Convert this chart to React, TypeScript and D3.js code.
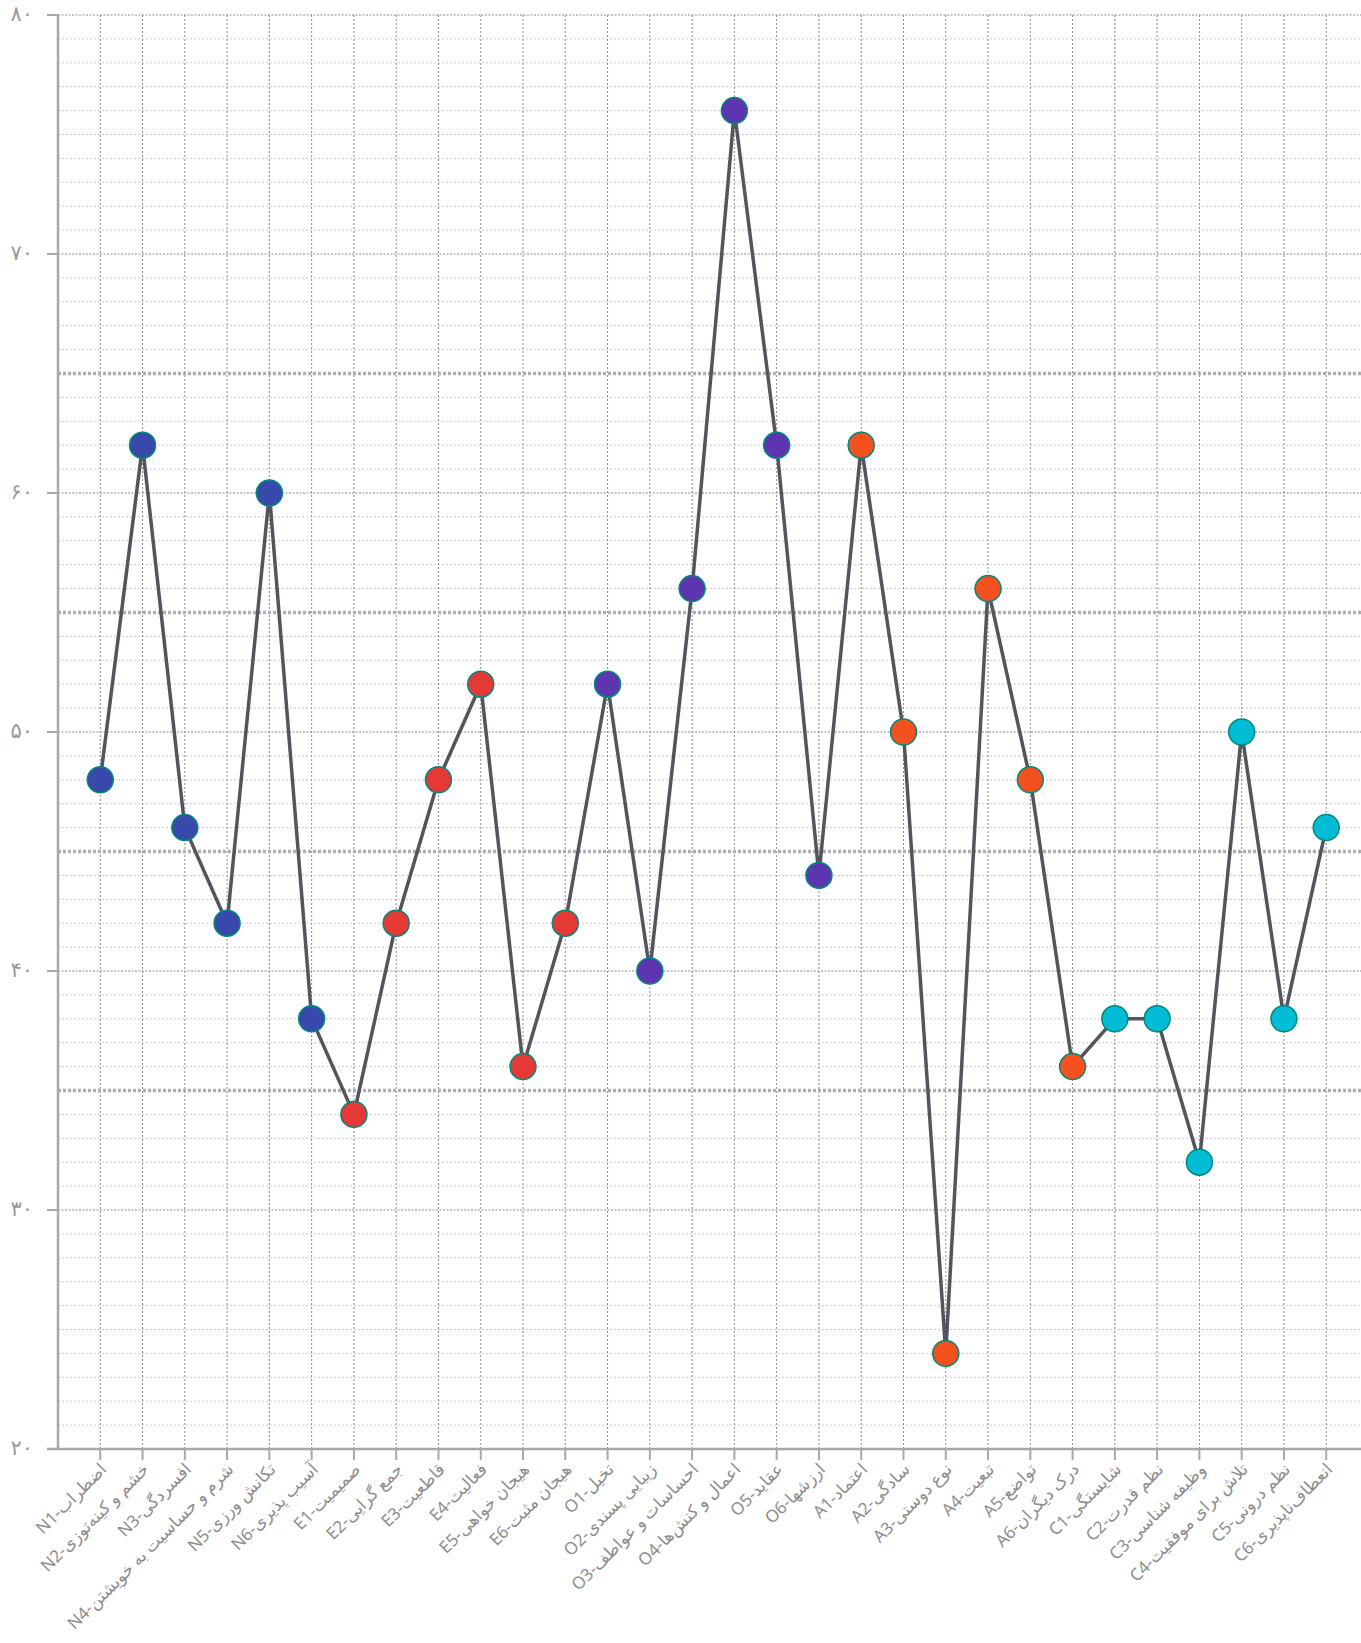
import React, { useEffect, useRef } from 'react';
import * as d3 from 'd3';

// facet codes and names (NEO)
const codes = [
  'N1', 'N2', 'N3', 'N4', 'N5', 'N6',
  'E1', 'E2', 'E3', 'E4', 'E5', 'E6',
  'O1', 'O2', 'O3', 'O4', 'O5', 'O6',
  'A1', 'A2', 'A3', 'A4', 'A5', 'A6',
  'C1', 'C2', 'C3', 'C4', 'C5', 'C6',
];
const names = [
  'اضطراب', 'خشم و کینه‌توزی', 'افسردگی', 'شرم و حساسیت به خویشتن', 'تکانش ورزی', 'آسیب پذیری',
  'صمیمیت', 'جمع گرایی', 'قاطعیت', 'فعالیت', 'هیجان خواهی', 'هیجان مثبت',
  'تخیل', 'زیبایی پسندی', 'احساسات و عواطف', 'اعمال و کنش‌ها', 'عقاید', 'ارزشها',
  'اعتماد', 'سادگی', 'نوع دوستی', 'تبعیت', 'تواضع', 'درک دیگران',
  'شایستگی', 'نظم قدرت', 'وظیفه شناسی', 'تلاش برای موفقیت', 'نظم درونی', 'انعطاف‌ناپذیری',
];
const scores = [
  48, 62, 46, 42, 60, 38,
  34, 42, 48, 52, 36, 42,
  52, 40, 56, 76, 62, 44,
  62, 50, 24, 56, 48, 36,
  38, 38, 32, 50, 38, 46,
];
const groups = ['N', 'E', 'O', 'A', 'C'];
const groupColors = ['#3949ab', '#e53935', '#5e35b1', '#f4511e', '#00bcd4'];

const yTicks = [20, 30, 40, 50, 60, 70, 80];
const bandLines = [35, 45, 55, 65];

const W = 1361;
const H = 1643;

const faDigits = (s: string) => s.replace(/\d/g, d => '۰۱۲۳۴۵۶۷۸۹'[+d]);

function App() {
  const svgRef = useRef<SVGSVGElement>(null);

  useEffect(() => {
    const svg = d3.select(svgRef.current);
    svg.selectAll('*').remove();

    const left = 58, top = 15, bottom = 1449;

    const x = d3.scalePoint<string>().domain(codes).range([left, 1368.5]).padding(1);
    const y = d3.scaleLinear().domain([20, 80]).range([bottom, top]);
    const color = d3.scaleOrdinal<string, string>().domain(groups).range(groupColors);

    const g = svg.append('g');

    // minor horizontal grid
    const minor = d3.range(21, 80).filter(v => v % 10 !== 0 && !bandLines.includes(v));
    g.selectAll('.minor').data(minor).enter().append('line')
      .attr('x1', left).attr('x2', W)
      .attr('y1', d => y(d)).attr('y2', d => y(d))
      .attr('stroke', '#c8c8c8').attr('stroke-width', 1)
      .attr('stroke-dasharray', '2,2');

    // vertical grid
    g.selectAll('.vgrid').data(codes).enter().append('line')
      .attr('x1', d => x(d)!).attr('x2', d => x(d)!)
      .attr('y1', top).attr('y2', bottom)
      .attr('stroke', '#8c8c8c').attr('stroke-width', 1)
      .attr('stroke-dasharray', '2,2');

    // major horizontal grid
    g.selectAll('.major').data(yTicks.filter(v => v !== 20)).enter().append('line')
      .attr('x1', left).attr('x2', W)
      .attr('y1', d => y(d)).attr('y2', d => y(d))
      .attr('stroke', '#8c8c8c').attr('stroke-width', 1.2)
      .attr('stroke-dasharray', '2,1.5');

    // bold dashed band lines
    g.selectAll('.band').data(bandLines).enter().append('line')
      .attr('x1', left).attr('x2', W)
      .attr('y1', d => y(d)).attr('y2', d => y(d))
      .attr('stroke', '#b0b0b0').attr('stroke-width', 3.5)
      .attr('stroke-dasharray', '3,2');

    // axes
    g.append('line')
      .attr('x1', left).attr('x2', left).attr('y1', top).attr('y2', bottom)
      .attr('stroke', '#a8a8a8').attr('stroke-width', 2.5);
    g.append('line')
      .attr('x1', left - 11).attr('x2', W).attr('y1', bottom).attr('y2', bottom)
      .attr('stroke', '#a8a8a8').attr('stroke-width', 2.5);

    // y ticks
    g.selectAll('.ytick').data(yTicks).enter().append('line')
      .attr('x1', left - 11).attr('x2', left)
      .attr('y1', d => y(d)).attr('y2', d => y(d))
      .attr('stroke', '#a8a8a8').attr('stroke-width', 2);
    g.selectAll('.ylab').data(yTicks).enter().append('text')
      .attr('x', 33).attr('y', d => y(d))
      .attr('dy', '0.3em')
      .attr('text-anchor', 'end')
      .attr('fill', '#9a9a9a')
      .style('font-size', '21px')
      .style('font-family', "'DejaVu Sans', sans-serif")
      .text(d => faDigits(String(d)));

    // x ticks
    g.selectAll('.xtick').data(codes).enter().append('line')
      .attr('x1', d => x(d)!).attr('x2', d => x(d)!)
      .attr('y1', bottom).attr('y2', bottom + 11)
      .attr('stroke', '#a8a8a8').attr('stroke-width', 2);
    g.selectAll('.xlab').data(codes).enter().append('text')
      .attr('transform', d => `translate(${x(d)! - 1},${bottom + 13}) rotate(-45)`)
      .attr('text-anchor', 'end')
      .attr('dy', '0.7em')
      .attr('fill', '#8e8e8e')
      .style('font-size', '17px')
      .style('font-family', "'Noto Sans', 'DejaVu Sans', sans-serif")
      .text((d, i) => `${d}-${names[i]}`);

    // line
    const line = d3.line<number>()
      .x((_, i) => x(codes[i])!)
      .y(d => y(d));
    g.append('path')
      .datum(scores)
      .attr('d', line)
      .attr('fill', 'none')
      .attr('stroke', '#54545e')
      .attr('stroke-width', 3.5)
      .attr('stroke-linejoin', 'round');

    // points
    g.selectAll('.dot').data(scores).enter().append('circle')
      .attr('cx', (_, i) => x(codes[i])!)
      .attr('cy', d => y(d))
      .attr('r', 13)
      .attr('fill', (_, i) => color(codes[i][0]))
      .attr('stroke', '#00897b')
      .attr('stroke-width', 1.5);
  }, []);

  return (
    <svg ref={svgRef} width={W} height={H}
      style={{ position: 'absolute', left: 0, top: 0, background: '#fff' }} />
  );
}

export default App;
